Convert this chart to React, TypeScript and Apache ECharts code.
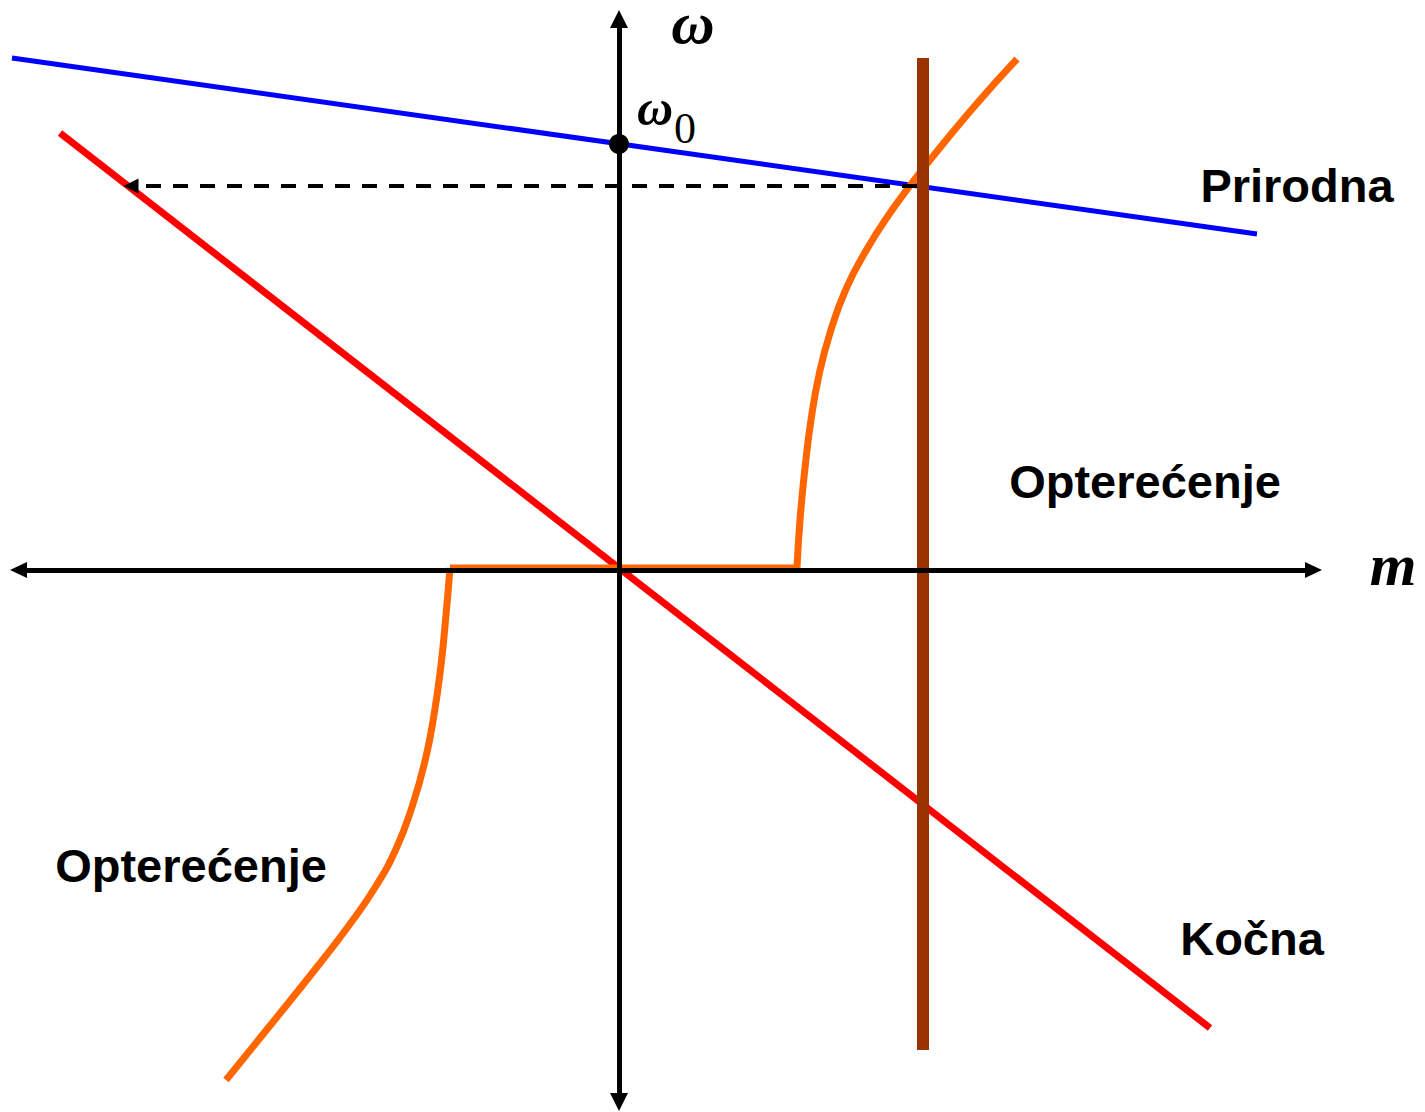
import React, { useEffect, useRef } from "react";
import * as echarts from "echarts";

// Coordinate system: origin at the crossing of the m and ω axes.
const X_MIN = -619;
const X_MAX = 806;
const Y_MIN = -543;
const Y_MAX = 569;

// Natural ("Prirodna") characteristic
const prirodna: [number, number][] = [
  [-607, 511],
  [638, 335],
];
// Braking ("Kočna") characteristic
const kocna: [number, number][] = [
  [-559, 436],
  [591, -459],
];
// Vertical load torque line
const vertical: [number, number][] = [
  [304, 511],
  [304, -481],
];
// Load ("Opterećenje") characteristic – three parts
const loadLower: [number, number][] = [
  [-393, -511],
  [-342, -448],
  [-302, -398],
  [-269, -355],
  [-243, -317],
  [-223, -280],
  [-207, -238],
  [-194, -192],
  [-185, -146],
  [-178, -96],
  [-173, -46],
  [-169, 1],
];
const loadFlat: [number, number][] = [
  [-169, 1],
  [178, 1],
];
const loadUpper: [number, number][] = [
  [178, 1],
  [181, 49],
  [186, 101],
  [192, 149],
  [200, 194],
  [211, 236],
  [227, 280],
  [248, 320],
  [271, 356],
  [293, 386],
  [311, 409],
  [354, 461],
  [398, 510],
];
// ω0 point
const omega0: [number, number][] = [[0, 425]];
// axes & guide
const mAxis: [number, number][] = [
  [-600.5, -1],
  [694.5, -1],
];
const wAxis: [number, number][] = [
  [0, 550],
  [0, -533],
];
const guide: [number, number][] = [
  [298, 383],
  [-488, 383],
];

const sansLabels = [
  { text: "Prirodna", pos: [678, 384] },
  { text: "Opterećenje", pos: [526, 88] },
  { text: "Opterećenje", pos: [-428, -296] },
  { text: "Kočna", pos: [633, -369] },
];
const mathLabels = [
  { text: "ω", pos: [74, 546], size: 60, bold: true, italic: true },
  { text: "m", pos: [774, 4.5], size: 60, bold: true, italic: true },
  { text: "ω", pos: [36, 461], size: 50, bold: true, italic: true },
  { text: "0", pos: [66, 441], size: 44, bold: false, italic: false },
];

export default function App() {
  const ref = useRef<HTMLDivElement>(null);
  useEffect(() => {
    if (!ref.current) return;
    const chart = echarts.init(ref.current, null, { renderer: "svg" });
    const lineSeries = (data: [number, number][], color: string, width: number, smooth: number | boolean = false, z = 2) => ({
      type: "line",
      data,
      smooth,
      showSymbol: false,
      symbol: "none",
      silent: true,
      z,
      lineStyle: { color, width, cap: "butt" },
    });
    const arrowLine = (pts: [number, number][], symbols: string[], size: number[], width: number, type: any) => ({
      type: "line",
      data: [],
      silent: true,
      z: 1,
      markLine: {
        silent: true,
        animation: false,
        symbol: symbols,
        symbolSize: size,
        label: { show: false },
        emphasis: { disabled: true },
        lineStyle: { color: "#000", width, type, opacity: 1 },
        itemStyle: { color: "#000" },
        data: [[{ coord: pts[0] }, { coord: pts[1] }]],
      },
    });
    const option: any = {
      animation: false,
      grid: { left: 0, right: 0, top: 0, bottom: 0 },
      xAxis: { type: "value", min: X_MIN, max: X_MAX, show: false },
      yAxis: { type: "value", min: Y_MIN, max: Y_MAX, show: false },
      series: [
        arrowLine(mAxis, ["triangle", "triangle"], [16, 17], 5, "solid"),
        arrowLine(wAxis, ["triangle", "triangle"], [18, 18], 5, "solid"),
        arrowLine(guide, ["none", "triangle"], [15, 15], 4, [15, 12]),
        lineSeries(prirodna, "#0000FF", 5),
        lineSeries(kocna, "#FF0000", 7),
        lineSeries(loadLower, "#FF6600", 7, 0.5, 3),
        lineSeries(loadFlat, "#FF6600", 7, false, 3),
        lineSeries(loadUpper, "#FF6600", 7, 0.5, 3),
        lineSeries(vertical, "#993300", 12, false, 4),
        {
          type: "scatter",
          data: omega0,
          symbolSize: 20,
          silent: true,
          z: 5,
          itemStyle: { color: "#000", opacity: 1 },
        },
        {
          type: "scatter",
          silent: true,
          z: 6,
          symbolSize: 1,
          itemStyle: { color: "rgba(0,0,0,0)", opacity: 1 },
          data: sansLabels.map((l) => ({
            value: l.pos,
            label: {
              show: true,
              position: "inside",
              formatter: l.text,
              fontFamily: "Liberation Sans, Arial, sans-serif",
              fontWeight: "bold",
              fontSize: 47,
              color: "#000",
              opacity: 1,
              align: "center",
              verticalAlign: "middle",
            },
          })),
        },
        {
          type: "scatter",
          silent: true,
          z: 6,
          symbolSize: 1,
          itemStyle: { color: "rgba(0,0,0,0)", opacity: 1 },
          data: mathLabels.map((l) => ({
            value: l.pos,
            label: {
              show: true,
              position: "inside",
              formatter: l.text,
              fontFamily: "Liberation Serif, Times New Roman, serif",
              fontWeight: l.bold ? "bold" : "normal",
              fontStyle: l.italic ? "italic" : "normal",
              fontSize: l.size,
              lineHeight: Math.round(l.size * 0.65),
              color: "#000",
              opacity: 1,
              align: "center",
              verticalAlign: "middle",
            },
          })),
        },
      ],
    };
    chart.setOption(option);
    return () => chart.dispose();
  }, []);
  return (
    <div
      ref={ref}
      style={{ position: "absolute", left: 0, top: 0, width: 1425, height: 1112, background: "#fff" }}
    />
  );
}
